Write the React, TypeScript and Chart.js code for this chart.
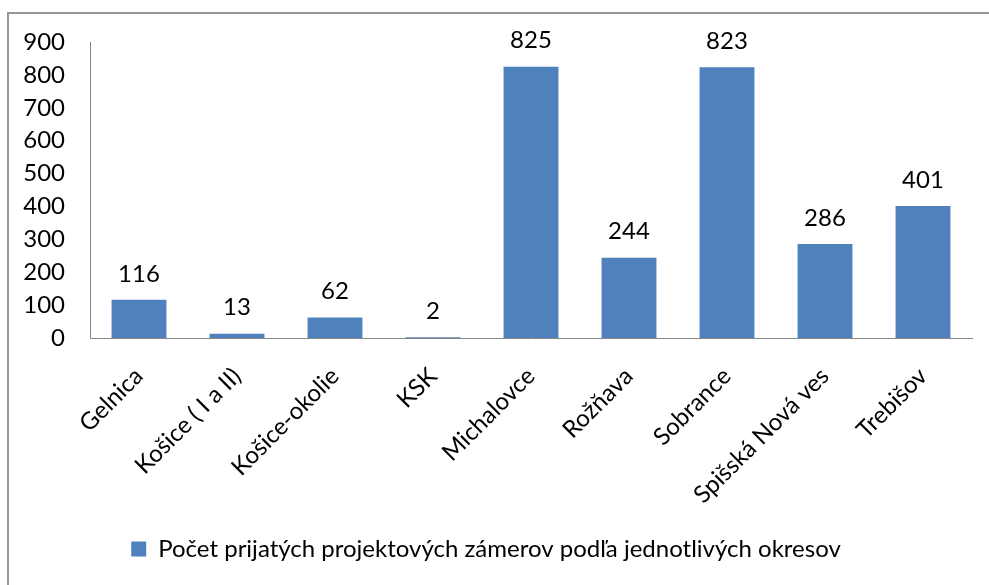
import React, { useEffect, useRef } from "react";
import { Chart, registerables } from "chart.js";

Chart.register(...registerables);

const categories = [
  "Gelnica",
  "Košice ( I a II)",
  "Košice-okolie",
  "KSK",
  "Michalovce",
  "Rožňava",
  "Sobrance",
  "Spišská Nová ves",
  "Trebišov",
];
const values = [116, 13, 62, 2, 825, 244, 823, 286, 401];
const seriesLabel = "Počet prijatých projektových zámerov podľa jednotlivých okresov";
const yMin = 0;
const yMax = 900;
const yStep = 100;

const FONT = "Lato";
const FS = 24;

const dataLabels = {
  id: "dataLabels",
  afterDatasetsDraw(chart: any) {
    const { ctx } = chart;
    const meta = chart.getDatasetMeta(0);
    ctx.save();
    ctx.font = `${FS}px ${FONT}`;
    ctx.fillStyle = "#000";
    ctx.textAlign = "center";
    ctx.textBaseline = "middle";
    meta.data.forEach((bar: any, i: number) => {
      ctx.fillText(String(values[i]), bar.x, bar.y - 26);
    });
    ctx.restore();
  },
};

export default function App() {
  const ref = useRef<HTMLCanvasElement>(null);
  useEffect(() => {
    if (!ref.current) return;
    const chart = new Chart(ref.current, {
      type: "bar",
      data: {
        labels: categories,
        datasets: [
          {
            label: seriesLabel,
            data: values,
            backgroundColor: "#4F81BD",
            barPercentage: 0.56,
            categoryPercentage: 1,
          },
        ],
      },
      options: {
        animation: false,
        responsive: false,
        maintainAspectRatio: false,
        layout: { padding: { top: 42, left: 0, right: 44, bottom: 14 } },
        plugins: {
          tooltip: { enabled: false },
          legend: {
            position: "bottom",
            labels: {
              boxWidth: 15,
              boxHeight: 15,
              padding: 9,
              color: "#000",
              font: { family: FONT, size: FS },
            },
          },
        },
        scales: {
          x: {
            grid: { display: false, drawTicks: false },
            border: { display: true, color: "#868686", width: 1 },
            ticks: {
              color: "#000",
              font: { family: FONT, size: FS },
              minRotation: 45,
              maxRotation: 45,
              autoSkip: false,
              padding: 24,
            },
            afterFit: (s: any) => {
              s.height = 190;
            },
          },
          y: {
            min: yMin,
            max: yMax,
            grid: { display: false, drawTicks: false },
            border: { display: true, color: "#868686", width: 1 },
            ticks: {
              stepSize: yStep,
              color: "#000",
              font: { family: FONT, size: FS },
              padding: 25,
            },
            afterFit: (s: any) => {
              s.width = 90;
            },
          },
        },
      },
      plugins: [dataLabels],
    });
    return () => chart.destroy();
  }, []);

  return (
    <div
      style={{
        position: "fixed",
        left: 0,
        top: 0,
        width: 989,
        height: 585,
        overflow: "hidden",
        background: "#fff",
      }}
    >
      <div
        style={{
          position: "absolute",
          left: 7,
          top: 12,
          width: 1010,
          height: 620,
          border: "2px solid #959595",
          boxSizing: "border-box",
        }}
      />
      <canvas
        ref={ref}
        width={1016}
        height={585}
        style={{ position: "absolute", left: 0, top: 0, width: 1016, height: 585 }}
      />
    </div>
  );
}
